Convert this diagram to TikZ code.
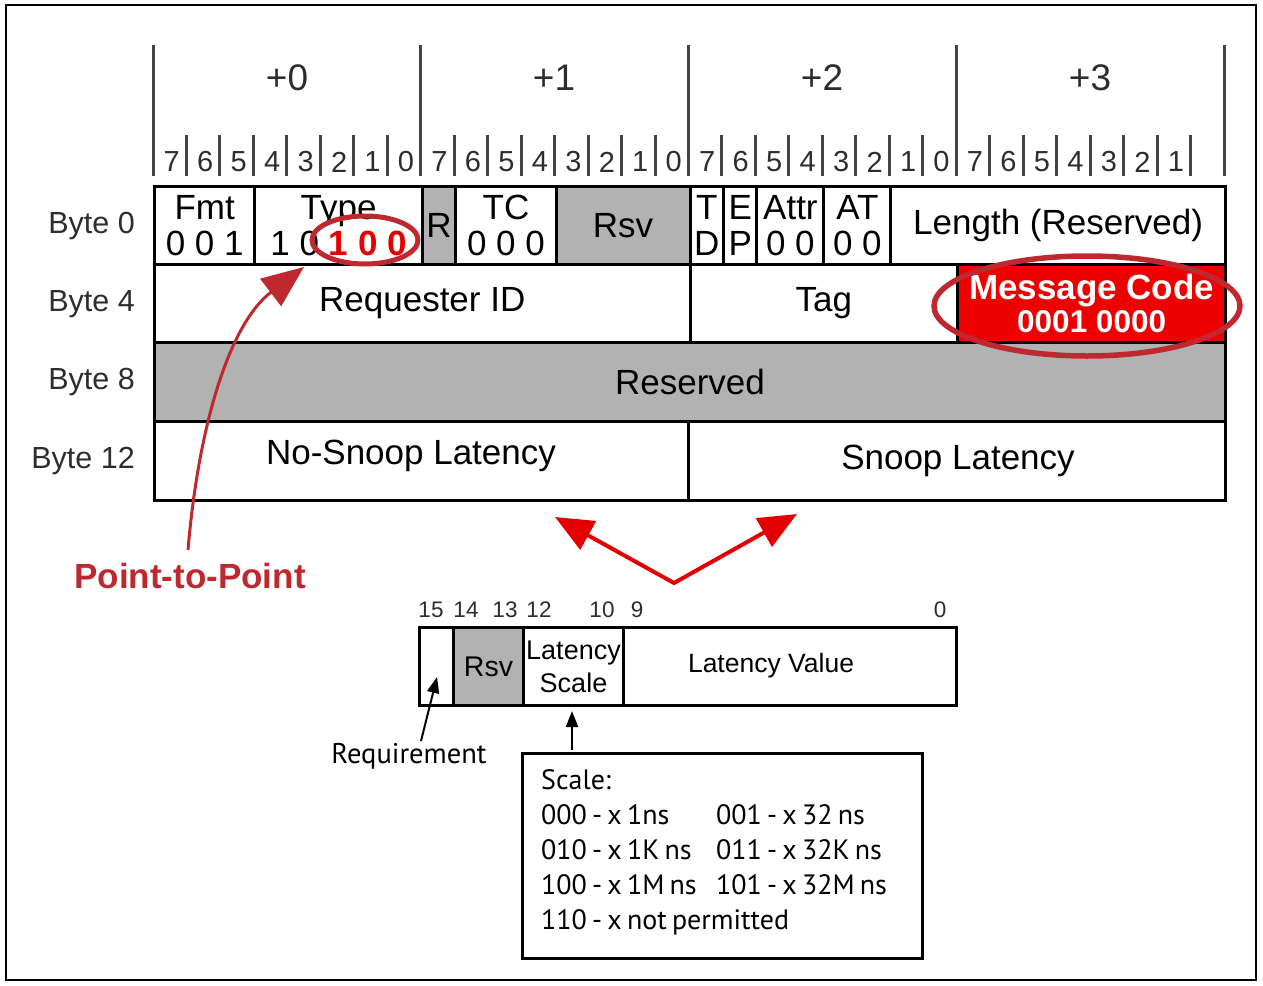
\documentclass[tikz,border=0pt]{standalone}
\usepackage{fontspec}
\setmainfont{Liberation Sans}
\newfontfamily\mysans{PT Sans}
\usetikzlibrary{arrows.meta,shapes.geometric}
\definecolor{gry}{RGB}{178,178,178}
\definecolor{txtg}{RGB}{45,45,45}
\definecolor{tickg}{RGB}{68,68,68}
\definecolor{ellred}{RGB}{192,40,48}
\definecolor{brightred}{RGB}{228,0,0}
\definecolor{msgred}{RGB}{238,0,0}
\newcommand\fs[2]{\fontsize{#1}{#2}\selectfont}
\newcommand\fld[7]{\node[fld,minimum width=#4pt,minimum height=#5pt,#6] (#1) at (#2,#3) {#7};}
\newcommand\tightsp{\spaceskip=5.2pt plus 1pt minus 1pt\relax}
\begin{document}
\begin{tikzpicture}[x=1pt,y=-1pt,
  fld/.style={draw, line width=3pt, inner sep=0pt, anchor=north west, align=center, font=\fs{35}{36}},
  sfld/.style={draw, line width=3pt, inner sep=0pt, anchor=north west, align=center, minimum height=78pt, font=\fs{27}{33}},
  hdr/.style={font=\fs{37}{40}, text=txtg, inner sep=0pt},
  bitlbl/.style={font=\fs{29}{30}, text=txtg, inner sep=0pt},
  bytelbl/.style={font=\fs{30.5}{32}, text=txtg, inner sep=0pt, anchor=east},
  sbit/.style={font=\fs{22.5}{24}, text=txtg, inner sep=0pt},
  tick/.style={tickg, line width=3pt},
  redell/.style={ellipse, draw=ellred, inner sep=0pt},
  blkarrow/.style={black, line width=2pt, -{Triangle[length=16pt,width=12pt]}}
]
\useasboundingbox (0,0) rectangle (1263,985);
\draw[line width=2.5pt] (6,5) rectangle (1256,980);

% header ticks
\foreach \i in {0,...,32}{
  \pgfmathsetmacro{\xx}{153+\i*33.469}
  \pgfmathtruncatemacro{\mm}{mod(\i,8)}
  \ifnum\mm=0
    \draw[tick] (\xx,45) -- (\xx,176);
  \else
    \draw[tick] (\xx,135) -- (\xx,176);
  \fi
}
% bit labels
\foreach \b in {0,1,2,3}{
  \foreach \k in {0,...,7}{
    \pgfmathsetmacro{\xx}{153+(\b*8+\k+0.5)*33.469+2}
    \pgfmathtruncatemacro{\lab}{7-\k}
    \pgfmathtruncatemacro{\skip}{(\b==3)&&(\k==7)}
    \ifnum\skip=0
      \node[bitlbl] (bit\b-\k) at (\xx,162) {\lab};
    \fi
  }
}
% byte headers
\node[hdr] (h0) at (287,78) {+0};
\node[hdr] (h1) at (554,78) {+1};
\node[hdr] (h2) at (822,78) {+2};
\node[hdr] (h3) at (1090,78) {+3};

% row labels
\node[bytelbl] (lb0) at (135,226) {Byte 0};
\node[bytelbl] (lb4) at (135,304) {Byte 4};
\node[bytelbl] (lb8) at (135,382) {Byte 8};
\node[bytelbl] (lb12) at (135,461) {Byte 12};

% row 0
\fld{fmt}{153}{185}{100.4}{78}{}{Fmt\\0 0 1}
\fld{type}{253.4}{185}{167.4}{78}{}{Type\\1 0 \textcolor{brightred}{\bfseries 1 0 0}}
\fld{r}{420.8}{185}{33.5}{78}{fill=gry}{R}
\fld{tc}{454.3}{185}{100.3}{78}{}{TC\\0 0 0}
\fld{rsv}{554.6}{185}{133.9}{78}{fill=gry}{Rsv}
\fld{td}{688.5}{185}{33.5}{78}{}{T\\D}
\fld{ep}{722}{185}{33.4}{78}{}{E\\P}
\fld{attr}{755.4}{185}{67}{78}{}{Attr\\0 0}
\fld{at}{822.4}{185}{66.9}{78}{}{AT\\0 0}
\fld{len}{889.3}{185}{334.7}{78}{}{Length (Reserved)}
% row 1
\fld{req}{153}{263}{535.5}{78}{}{Requester ID}
\fld{tag}{688.5}{263}{267.8}{78}{}{Tag}
\fld{msg}{956.3}{263}{267.7}{78}{fill=msgred, text=white, font=\fs{35}{33}\bfseries}{Message Code\\{\fs{31.5}{33}\bfseries 0001 0000}}
% row 2
\fld{resv}{153}{341}{1071}{79}{fill=gry}{Reserved}
% row 3
\fld{ns}{153}{420}{534}{79}{}{}
\fld{sl}{687}{420}{537}{79}{}{}
\node[font=\fs{35}{36}, inner sep=0pt] (nstxt) at (411,456) {No-Snoop Latency};
\node[font=\fs{35}{36}, inner sep=0pt] (sltxt) at (958,461) {Snoop Latency};

% red ellipses
\node[redell, line width=5pt, minimum width=106pt, minimum height=48pt] (ell1) at (365,240) {};
\node[redell, line width=5.5pt, minimum width=306pt, minimum height=100pt] (ell2) at (1087,306) {};

% point-to-point
\node[font=\fs{35}{36}\bfseries, text=ellred, inner sep=0pt] (ptp) at (190,576) {Point-to-Point};
\coordinate (pstart) at (188,550);
\coordinate (ptip) at (304,267);
\draw[ellred, line width=3pt, -{Triangle[length=42pt,width=34pt]}] (pstart) .. controls (198,430) and (228,325) .. (ptip);

% V arrows
\coordinate (vtx) at (674,583);
\coordinate (vl) at (555,517);
\coordinate (vr) at (797,514);
\draw[brightred, line width=4pt, miter limit=10, {Triangle[length=38pt,width=32pt]}-{Triangle[length=38pt,width=32pt]}] (vl) -- (vtx) -- (vr);

% latency field
\node[sfld, minimum width=34pt] (b15) at (418,626) {};
\node[sfld, minimum width=70pt, fill=gry, font=\fs{28.5}{30}] (b14) at (452,626) {Rsv};
\node[sfld, minimum width=100pt] (lscale) at (522,626) {Latency\\Scale};
\node[sfld, minimum width=333pt] (lval) at (622,626) {};
\node[font=\fs{26.5}{28}, inner sep=0pt] (lvaltxt) at (771,666) {Latency Value};

\node[sbit] (n15) at (431,610) {15};
\node[sbit] (n14) at (466,610) {14};
\node[sbit] (n13) at (505,610) {13};
\node[sbit] (n12) at (539,610) {12};
\node[sbit] (n10) at (602,610) {10};
\node[sbit] (n9) at (637,610) {9};
\node[sbit] (n0) at (940,610) {0};

% requirement
\node[font=\mysans\fs{28.5}{30}, inner sep=0pt] (reqlbl) at (409,756) {Requirement};
\coordinate (reqtail) at (421,741);
\coordinate (reqtip) at (437,677);
\draw[blkarrow] (reqtail) -- (reqtip);

% scale box
\node[draw, line width=3pt, anchor=north west, minimum width=400pt, minimum height=205pt, inner sep=0pt] (scalebox) at (521,752) {};
\node[anchor=north west, inner sep=0pt, font=\mysans\fs{28}{35}, align=left] (scaletxt) at (541,769)
 {\tightsp Scale:\\
  \makebox[175pt][l]{\tightsp 000 - x 1ns}{\tightsp 001 - x 32 ns}\\
  \makebox[175pt][l]{\tightsp 010 - x 1K ns}{\tightsp 011 - x 32K ns}\\
  \makebox[175pt][l]{\tightsp 100 - x 1M ns}{\tightsp 101 - x 32M ns}\\
  {\tightsp 110 - x not permitted}};
\coordinate (stail) at (572,750);
\draw[blkarrow] (stail) -- ([yshift=-4pt]lscale.south -| stail);
\end{tikzpicture}
\end{document}
